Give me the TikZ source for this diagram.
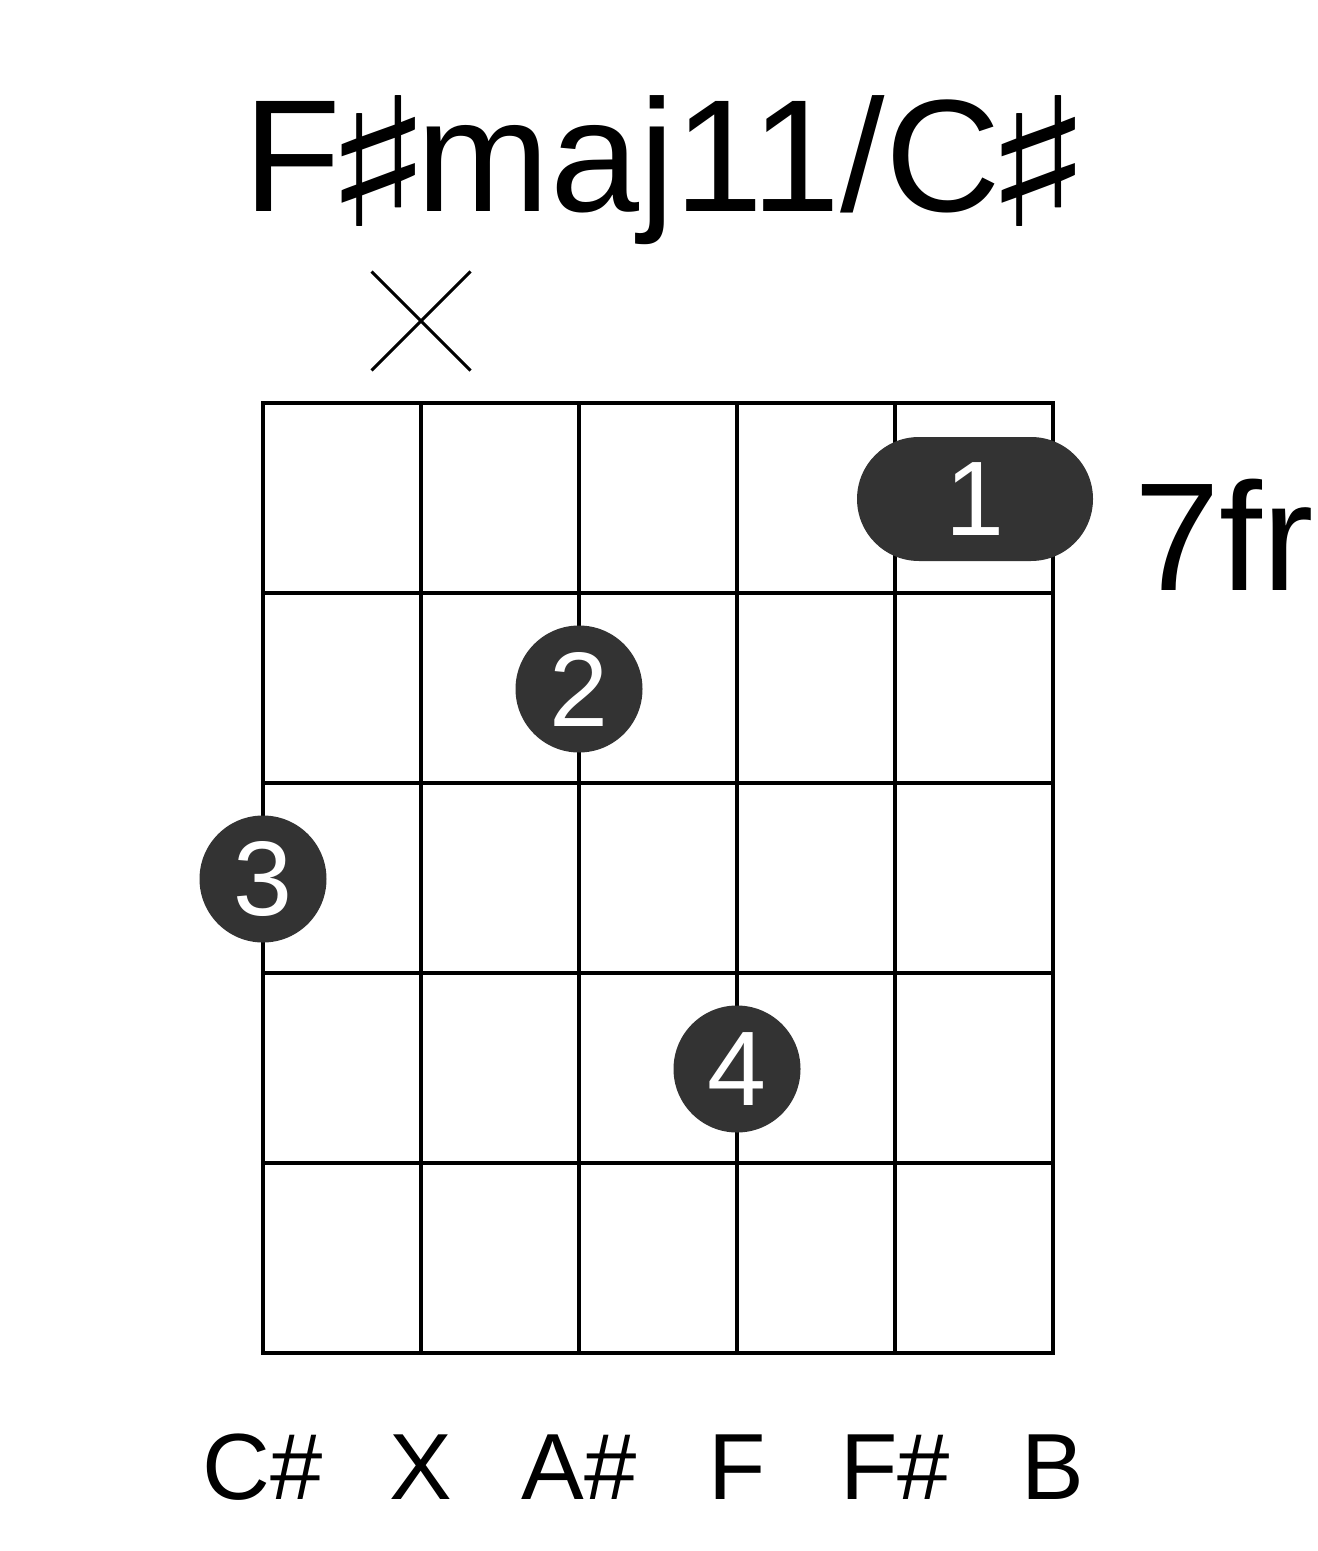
\documentclass[tikz,border=0pt]{standalone}
\usepackage{fontspec}
\setmainfont{Liberation Sans}
\newfontfamily\symfont{DejaVu Sans}
\usetikzlibrary{shapes.misc}
\definecolor{dotgray}{HTML}{333333}
\newcommand{\sharpsign}{\makebox[38pt]{\raisebox{-7.5pt}{\scalebox{1.45}[1.12]{\symfont ♯}}}}
\tikzset{
  gridline/.style={line width=2pt},
  fingerdot/.style={circle,fill=dotgray,text=white,inner sep=0pt,minimum size=63.5pt,
    font=\fontsize{53}{60}\selectfont},
  barre/.style={rectangle,fill=dotgray,text=white,inner sep=0pt,minimum width=118pt,
    minimum height=62pt,rounded corners=31pt,font=\fontsize{53}{60}\selectfont},
  notename/.style={anchor=base,font=\fontsize{47}{56}\selectfont}
}
\begin{document}
\begin{tikzpicture}[x=0.5pt,y=-0.5pt]
  \useasboundingbox (0,0) rectangle (1317,1551);
  \node[anchor=base,font=\fontsize{80}{96}\selectfont] (title) at (660,212)
    {F\sharpsign maj11/C\sharpsign};
  \node[cross out,draw,line width=1.5pt,inner sep=0pt,minimum size=48pt] (mute) at (421,321) {};
  \draw[gridline] (263,403) rectangle (1053,1353);
  \foreach \i in {1,...,4}
    \draw[gridline] (263+158*\i,403) -- (263+158*\i,1353);
  \foreach \j in {1,...,4}
    \draw[gridline] (263,403+190*\j) -- (1053,403+190*\j);
  \node[barre] (f1) at (975,499) {1};
  \node[fingerdot] (f2) at (579,689) {2};
  \node[fingerdot] (f3) at (263,879) {3};
  \node[fingerdot] (f4) at (737,1069) {4};
  \node[anchor=base west,font=\fontsize{77}{92}\selectfont] (fret) at (1127,590) {7fr};
  \foreach \i/\lab in {0/C\#,1/X,2/A\#,3/F,4/F\#,5/B}
    \node[notename] (n\i) at (263+158*\i,1499) {\lab};
\end{tikzpicture}
\end{document}
